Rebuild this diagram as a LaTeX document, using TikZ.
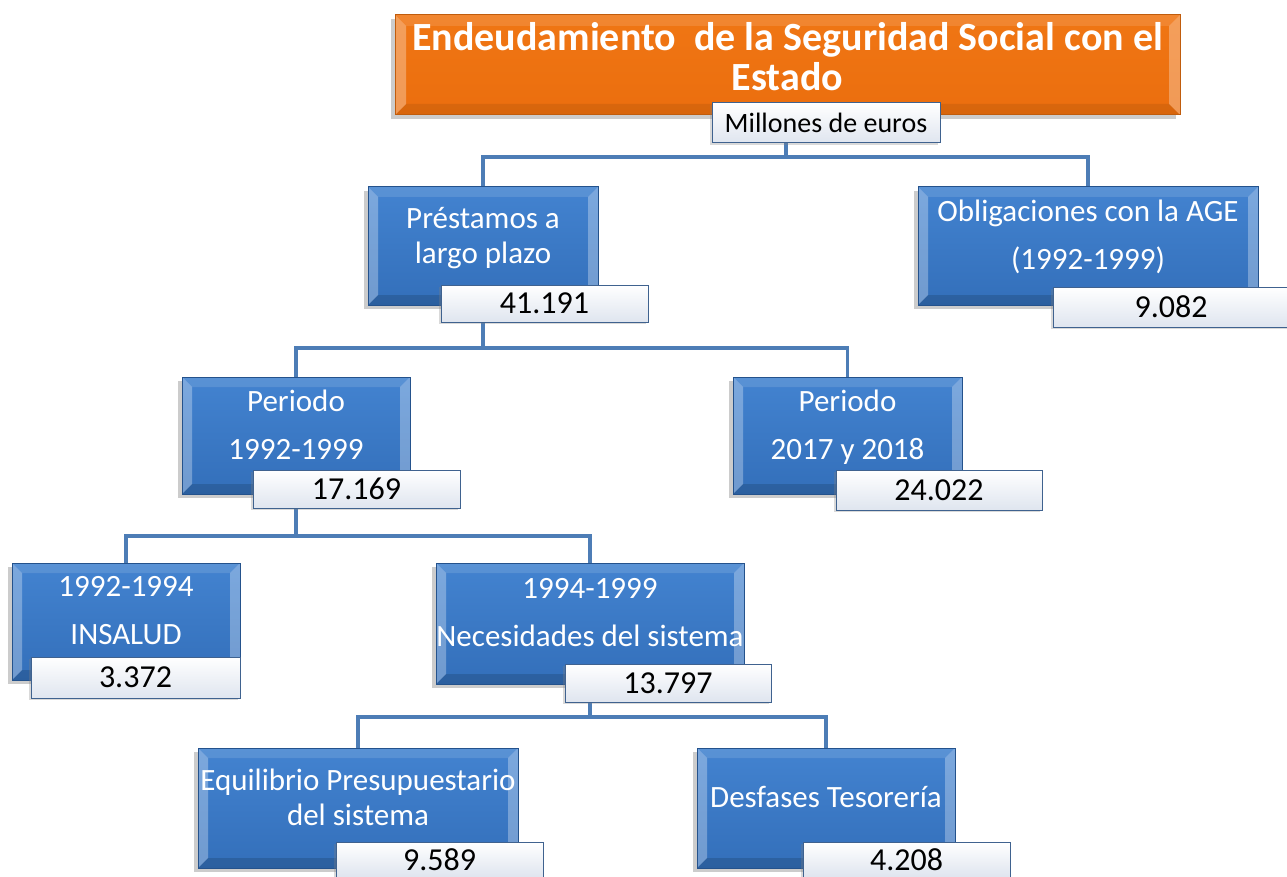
\documentclass[tikz,border=0pt]{standalone}
\usepackage{fontspec}
\setmainfont{Carlito}
\usetikzlibrary{shadows,calc,backgrounds}
\definecolor{blueA}{HTML}{4383D0}
\definecolor{blueB}{HTML}{336FBA}
\definecolor{blueE}{HTML}{24528C}
\definecolor{valE}{HTML}{3F628F}
\definecolor{valB}{HTML}{DFE5EF}
\definecolor{conn}{HTML}{4D7DB6}
\definecolor{orA}{HTML}{F07614}
\definecolor{orB}{HTML}{EB6E0E}
\definecolor{orE}{HTML}{C05C0C}
\tikzset{
  bevel/.style 2 args={path picture={
    \path (path picture bounding box.north west) coordinate (pNW)
          (path picture bounding box.south east) coordinate (pSE)
          (path picture bounding box.north east) coordinate (pNE)
          (path picture bounding box.south west) coordinate (pSW);
    \fill[white,opacity=.30] (pNW) -- (pSW) -- ([shift={(#1,#1)}]pSW) -- ([shift={(#1,-#1)}]pNW) -- cycle;
    \fill[white,opacity=.30] (pNE) -- (pSE) -- ([shift={(-#1,#1)}]pSE) -- ([shift={(-#1,-#1)}]pNE) -- cycle;
    \fill[white,opacity=.12] (pNW) -- (pNE) -- ([shift={(-#1,-#1)}]pNE) -- ([shift={(#1,-#1)}]pNW) -- cycle;
    \fill[black,opacity=#2] (pSW) -- (pSE) -- ([shift={(-#1,#1)}]pSE) -- ([shift={(#1,#1)}]pSW) -- cycle;
  }},
  bluebox/.style={draw=blueE, line width=1pt, top color=blueA, bottom color=blueB,
    text=white, align=center, inner sep=0pt, bevel={10pt}{.14},
    drop shadow={shadow xshift=-4pt, shadow yshift=-4pt, opacity=.4}},
  valbox/.style={draw=valE, line width=1pt, top color=white, bottom color=valB,
    text=black, align=center, inner sep=0pt, font=\fontsize{32}{38}\selectfont,
    drop shadow={shadow xshift=-2pt, shadow yshift=-2pt, opacity=.3}},
  tight/.style={font=\fontsize{31}{35}\selectfont},
  wide/.style={font=\fontsize{31}{48}\selectfont},
  connector/.style={draw=conn, line width=3.5pt},
}
\begin{document}
\begin{tikzpicture}[x=1pt,y=-1pt]
\useasboundingbox (0,0) rectangle (1287,877);
% title
\node[draw=orE, line width=1pt, top color=orA, bottom color=orB, text=white, align=center,
  inner sep=0pt, bevel={11pt}{.08}, font=\bfseries\fontsize{40}{40}\selectfont,
  drop shadow={shadow xshift=-4pt, shadow yshift=-4pt, opacity=.4},
  minimum width=785pt, minimum height=100pt, text depth=18pt] (title) at (787.5,65)
  {Endeudamiento\ \ de la Seguridad Social con el\\Estado};
\node[valbox, font=\fontsize{28}{30}\selectfont, minimum width=228pt, minimum height=40pt] (mill) at (826,123) {Millones de euros};
% level 1
\node[bluebox, tight, minimum width=230pt, minimum height=118pt, text depth=22pt] (prest) at (483,246) {Préstamos a\\largo plazo};
\node[valbox, minimum width=207pt, minimum height=37pt] (prestv) at (544.5,303.5) {41.191};
\node[bluebox, wide, minimum width=340pt, minimum height=118pt, text depth=22pt] (oblig) at (1088,246) {Obligaciones con la AGE\\(1992-1999)};
\node[valbox, minimum width=236pt, minimum height=40pt] (obligv) at (1171,307) {9.082};
% level 2
\node[bluebox, wide, minimum width=228pt, minimum height=117pt, text depth=22pt] (per1) at (296,435.5) {Periodo\\1992-1999};
\node[valbox, minimum width=207pt, minimum height=38pt] (per1v) at (356.5,489) {17.169};
\node[bluebox, wide, minimum width=229pt, minimum height=117pt, text depth=22pt] (per2) at (847.5,435.5) {Periodo\\2017 y 2018};
\node[valbox, minimum width=206pt, minimum height=40pt] (per2v) at (939,490) {24.022};
% level 3
\node[bluebox, wide, minimum width=228pt, minimum height=117pt, text depth=22pt] (ins) at (126,621.5) {1992-1994\\INSALUD};
\node[valbox, minimum width=209pt, minimum height=41pt] (insv) at (135.5,677.5) {3.372};
\node[bluebox, wide, minimum width=308pt, minimum height=121pt, text depth=22pt] (nec) at (590,623.5) {1994-1999\\Necesidades del sistema};
\node[valbox, minimum width=206pt, minimum height=38pt] (necv) at (668,683) {13.797};
% level 4
\node[bluebox, tight, minimum width=320pt, minimum height=120pt, text depth=22pt] (equi) at (358,808) {Equilibrio Presupuestario\\del sistema};
\node[valbox, minimum width=207pt, minimum height=35pt] (equiv) at (439.5,859.5) {9.589};
\node[bluebox, tight, minimum width=258pt, minimum height=120pt, text depth=22pt] (desf) at (826,808) {Desfases Tesorería};
\node[valbox, minimum width=207pt, minimum height=35pt] (desfv) at (906.5,859.5) {4.208};
% connectors
\begin{scope}[on background layer]
\coordinate (bus1) at (786,157);
\coordinate (bus2) at (483,348);
\coordinate (bus3) at (296,536);
\coordinate (bus4) at (590,717);
\draw[connector] (prest.north) |- (bus1) -| (oblig.north);
\draw[connector] (bus1) -- (bus1 |- mill.south);
\draw[connector] (per1.north) |- (bus2) -| (per2.north);
\draw[connector] (bus2) -- (prest.south);
\draw[connector] (ins.north) |- (bus3) -| (nec.north);
\draw[connector] (bus3) -- (per1.south);
\draw[connector] (equi.north) |- (bus4) -| (desf.north);
\draw[connector] (bus4) -- (nec.south);
\end{scope}
\end{tikzpicture}
\end{document}
